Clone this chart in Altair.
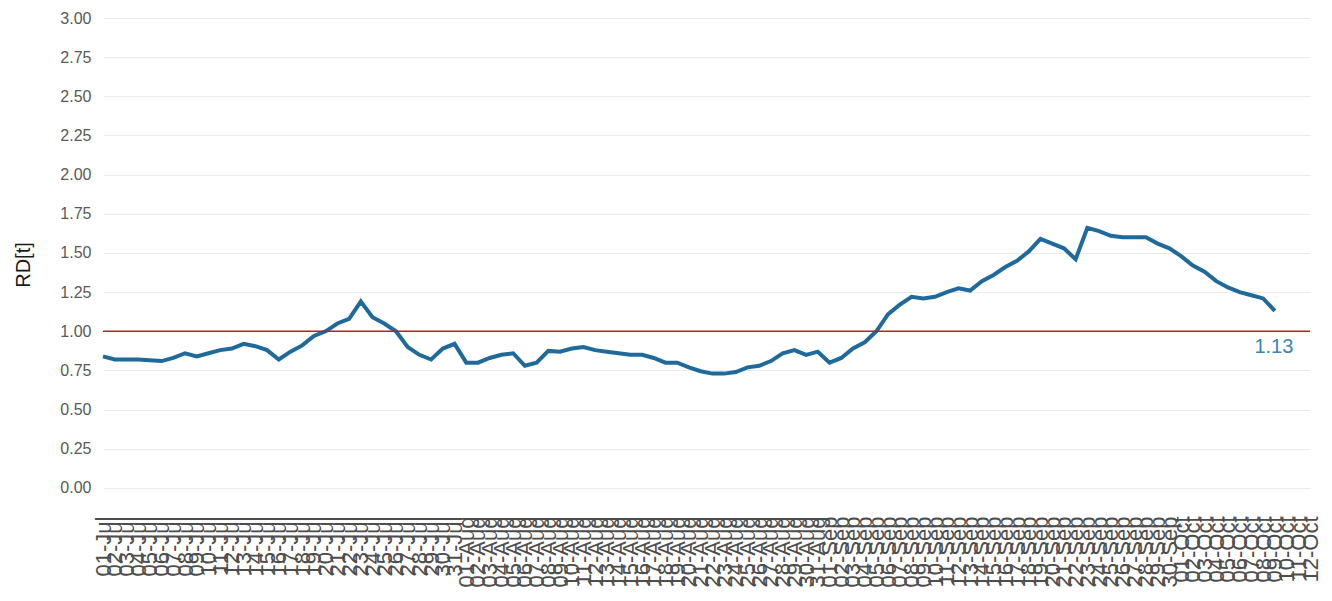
import altair as alt
import pandas as pd

# Category labels: one per day (x axis)
dates = [d.strftime("%d-%b") for d in pd.date_range("2020-07-01", "2020-10-12", freq="D")]

# RD[t] series (one value per day)
rd_values = [
    0.84, 0.82, 0.82, 0.82, 0.815, 0.81, 0.83, 0.86, 0.84, 0.86,
    0.88, 0.89, 0.92, 0.905, 0.88, 0.82, 0.87, 0.91, 0.97, 1.00,
    1.05, 1.08, 1.19, 1.09, 1.05, 1.00, 0.90, 0.85, 0.82, 0.89,
    0.92, 0.80, 0.80, 0.83, 0.85, 0.86, 0.78, 0.80, 0.875, 0.87,
    0.89, 0.90, 0.88, 0.87, 0.86, 0.85, 0.85, 0.83, 0.80, 0.80,
    0.77, 0.745, 0.73, 0.73, 0.74, 0.77, 0.78, 0.81, 0.86, 0.88,
    0.85, 0.87, 0.80, 0.83, 0.89, 0.93, 1.00, 1.11, 1.17, 1.22,
    1.21, 1.22, 1.25, 1.275, 1.26, 1.32, 1.36, 1.41, 1.45, 1.51,
    1.59, 1.56, 1.53, 1.46, 1.66, 1.64, 1.61, 1.60, 1.60, 1.60,
    1.56, 1.53, 1.48, 1.42, 1.38, 1.32, 1.28, 1.25, 1.23, 1.21,
    1.13,
]

threshold = [1.0]
y_ticks = [0.0, 0.25, 0.5, 0.75, 1.0, 1.25, 1.5, 1.75, 2.0, 2.25, 2.5, 2.75, 3.0]

df = pd.DataFrame({
    "date": dates[:len(rd_values)],
    "rd": rd_values,
    "idx": list(range(len(rd_values))),
})
last = df.iloc[[-1]]
thr = pd.DataFrame({"thr": threshold})

FONT = "Liberation Sans"

x_enc = alt.X(
    "date:O",
    scale=alt.Scale(domain=dates, type="point", padding=0),
    axis=alt.Axis(
        labelAngle=270,
        labelFontSize=22,
        labelColor="#4d4d4d",
        labelFont=FONT,
        labelOverlap=False,
        labelFlush=False,
        labelBound=False,
        ticks=False,
        domain=False,
        grid=False,
        labelPadding=5,
    ),
    title=None,
)

y_enc = alt.Y(
    "rd:Q",
    scale=alt.Scale(domain=[-0.147, 3.0], nice=False, zero=False),
    axis=alt.Axis(
        values=y_ticks,
        format=".2f",
        labelFontSize=16,
        labelColor="#595959",
        labelFont=FONT,
        ticks=False,
        domain=False,
        grid=True,
        gridColor="#ebebeb",
        gridWidth=1,
        labelPadding=12,
        title="RD[t]",
        titleFont=FONT,
        titleFontSize=20,
        titleFontWeight="normal",
        titleColor="#1a1a1a",
        titlePadding=26,
    ),
)

line = alt.Chart(df).mark_line(color="#1f6a9a", strokeWidth=4).encode(
    x=x_enc,
    y=y_enc,
    order=alt.Order("idx:Q"),
)

rule = alt.Chart(thr).mark_rule(color="#b22222", strokeWidth=1.5).encode(
    y=alt.Y("thr:Q"),
)

label = alt.Chart(last).mark_text(
    color="#3585b8", fontSize=20, font=FONT, dy=36, dx=-1, align="center", baseline="middle"
).encode(
    x=alt.X("date:O"),
    y=alt.Y("rd:Q"),
    text=alt.Text("rd:Q", format=".2f"),
)

chart = alt.layer(line, rule, label).properties(
    width=1207,
    height=493,
    autosize=alt.AutoSizeParams(type="none"),
    padding={"left": 95, "top": 10, "right": 14, "bottom": 82},
).configure(background="white").configure_view(stroke=None)

chart.save("out.html", embed_options={"renderer": "svg", "actions": False})
